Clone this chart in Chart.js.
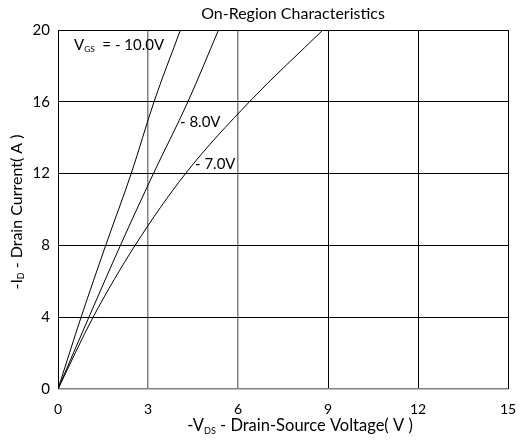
<!DOCTYPE html>
<html>
<head>
<meta charset="utf-8">
<script src="https://cdn.jsdelivr.net/npm/chart.js@4"></script>
<style>
  html, body { margin: 0; padding: 0; background: #fff; }
  #wrap { width: 520px; height: 441px; }
</style>
</head>
<body>
<div id="wrap"><canvas id="myChart"></canvas></div>
<script>
// values (x = -VDS in V, y = -ID in A)
const vgs10X = [0, 0.77, 1.59, 2.44, 3.2, 4.08];
const vgs10Y = [0, 4, 8, 12, 16, 20];
const vgs8X = [0, 1.03, 2.08, 3.18, 4.33, 5.35];
const vgs8Y = [0, 4, 8, 12, 16, 20];
const vgs7X = [0, 1.17, 2.57, 4.25, 6.38, 8.83];
const vgs7Y = [0, 4, 8, 12, 16, 20];
const xTicks = [0, 3, 6, 9, 12, 15];
const yTicks = [0, 4, 8, 12, 16, 20];

const fontName = 'Lato, "Open Sans", sans-serif';

function toPoints(xs, ys) {
    return xs.map((x, i) => ({x: x, y: ys[i]}));
}

// draw a run of text pieces, some of them subscript
function drawRich(ctx, parts, x, y, size, align) {
    let total = 0;
    parts.forEach(p => {
        ctx.font = (p.sub ? size * 0.55 : size) + 'px ' + fontName;
        total += ctx.measureText(p.t).width;
    });
    let cx = align === 'center' ? x - total / 2 : x;
    ctx.textAlign = 'left';
    ctx.textBaseline = 'middle';
    parts.forEach(p => {
        ctx.font = (p.sub ? size * 0.55 : size) + 'px ' + fontName;
        ctx.fillText(p.t, cx, p.sub ? y + size * 0.28 : y);
        cx += ctx.measureText(p.t).width;
    });
}

const textPlugin = {
    id: 'texts',
    afterDraw(chart) {
        const ctx = chart.ctx;
        ctx.save();
        ctx.fillStyle = '#000';
        drawRich(ctx, [{t: 'On-Region Characteristics'}], 293, 14, 16, 'center');
        drawRich(ctx, [{t: '-V'}, {t: 'DS', sub: true}, {t: ' - Drain-Source Voltage( V )'}], 300, 426, 16.5, 'center');
        drawRich(ctx, [{t: 'V'}, {t: 'GS', sub: true}, {t: '  = - 10.0V'}], 74, 45, 15, 'left');
        drawRich(ctx, [{t: '- 8.0V'}], 180, 122, 15, 'left');
        drawRich(ctx, [{t: '- 7.0V'}], 195, 164, 15, 'left');
        ctx.translate(17, 212);
        ctx.rotate(-Math.PI / 2);
        drawRich(ctx, [{t: '-I'}, {t: 'D', sub: true}, {t: ' - Drain Current( A )'}], 0, 0, 16, 'center');
        ctx.restore();
    }
};

const lineStyle = {
    borderColor: '#000',
    borderWidth: 1,
    pointRadius: 0,
    fill: false,
    tension: 0,
    cubicInterpolationMode: 'monotone'
};

const ctx = document.getElementById('myChart').getContext('2d');
new Chart(ctx, {
    type: 'line',
    data: {
        datasets: [
            Object.assign({label: '-10.0V', data: toPoints(vgs10X, vgs10Y)}, lineStyle),
            Object.assign({label: '-8.0V', data: toPoints(vgs8X, vgs8Y)}, lineStyle),
            Object.assign({label: '-7.0V', data: toPoints(vgs7X, vgs7Y)}, lineStyle)
        ]
    },
    options: {
        responsive: true,
        maintainAspectRatio: false,
        animation: false,
        layout: {padding: {top: 30, right: 0, left: 0, bottom: 0}},
        plugins: {legend: {display: false}, tooltip: {enabled: false}},
        scales: {
            x: {
                type: 'linear',
                min: 0,
                max: 15,
                afterBuildTicks: scale => { scale.ticks = xTicks.map(v => ({value: v})); },
                afterFit: scale => { scale.height = 52; scale.paddingRight = 12; },
                border: {display: false},
                grid: {
                    drawTicks: false,
                    color: c => (c.tick && (c.tick.value === 3 || c.tick.value === 6)) ? '#808080' : '#000',
                    lineWidth: c => (c.tick && (c.tick.value === 3 || c.tick.value === 6)) ? 1.5 : 1
                },
                ticks: {color: '#000', padding: 12, font: {family: fontName, size: 14}, maxRotation: 0}
            },
            y: {
                type: 'linear',
                min: 0,
                max: 20,
                afterBuildTicks: scale => { scale.ticks = yTicks.map(v => ({value: v})); },
                afterFit: scale => { scale.width = 58; },
                border: {display: false},
                grid: {
                    drawTicks: false,
                    color: c => (c.tick && c.tick.value === 0) ? '#808080' : '#000',
                    lineWidth: c => (c.tick && c.tick.value === 0) ? 1.5 : 1
                },
                ticks: {color: '#000', padding: 8, font: {family: fontName, size: 15}}
            }
        }
    },
    plugins: [textPlugin]
});
</script>
</body>
</html>
